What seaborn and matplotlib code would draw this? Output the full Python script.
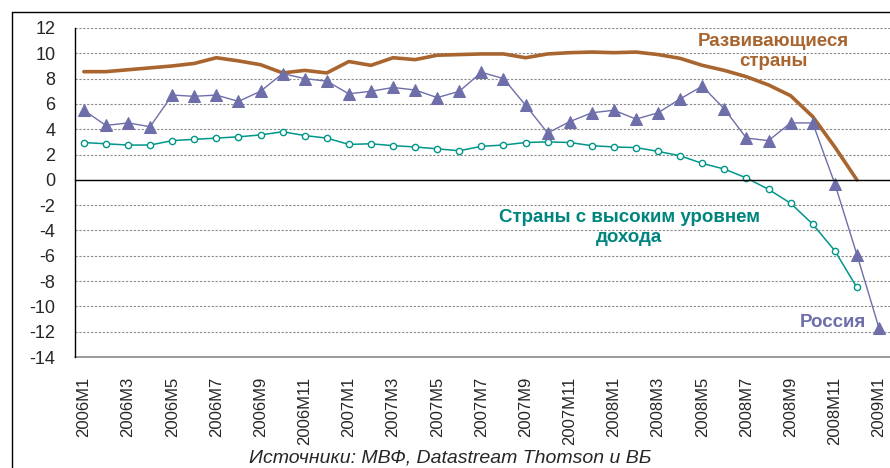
import numpy as np
import pandas as pd
import matplotlib
matplotlib.use('Agg')
import matplotlib.pyplot as plt
import seaborn as sns
from matplotlib.lines import Line2D

# месяцы 2006M1 - 2009M1
months = ['2006M1', '2006M2', '2006M3', '2006M4', '2006M5', '2006M6', '2006M7', '2006M8',
          '2006M9', '2006M10', '2006M11', '2006M12',
          '2007M1', '2007M2', '2007M3', '2007M4', '2007M5', '2007M6', '2007M7', '2007M8',
          '2007M9', '2007M10', '2007M11', '2007M12',
          '2008M1', '2008M2', '2008M3', '2008M4', '2008M5', '2008M6', '2008M7', '2008M8',
          '2008M9', '2008M10', '2008M11', '2008M12',
          '2009M1']

russia = [5.5, 4.3, 4.5, 4.2, 6.7, 6.6, 6.7, 6.2, 7.0, 8.4,
          8.0, 7.8, 6.8, 7.0, 7.3, 7.1, 6.5, 7.0, 8.5, 8.0,
          5.9, 3.7, 4.6, 5.3, 5.5, 4.8, 5.3, 6.4, 7.4, 5.6,
          3.3, 3.1, 4.5, 4.5, -0.3, -5.9, -11.7]

developing = [8.55, 8.55, 8.7, 8.85, 9.0, 9.2, 9.65, 9.4, 9.1, 8.45,
              8.65, 8.45, 9.35, 9.05, 9.65, 9.5, 9.85, 9.9, 9.95, 9.95,
              9.65, 9.95, 10.05, 10.1, 10.05, 10.1, 9.9, 9.6, 9.05, 8.65,
              8.15, 7.5, 6.65, 5.0, 2.6, 0.0]

high_income = [2.95, 2.85, 2.75, 2.75, 3.1, 3.2, 3.3, 3.4, 3.55, 3.8,
               3.5, 3.3, 2.8, 2.85, 2.7, 2.6, 2.45, 2.3, 2.65, 2.75,
               2.95, 3.0, 2.95, 2.7, 2.6, 2.55, 2.25, 1.9, 1.3, 0.85,
               0.15, -0.75, -1.85, -3.5, -5.6, -8.5]

brown = '#A8652F'
teal = '#00968A'
purple = '#6E6EAA'

sns.set_style('white')
plt.rcParams['font.family'] = ['Liberation Sans', 'DejaVu Sans']
plt.rcParams['axes.unicode_minus'] = False

fig = plt.figure(figsize=(8.9, 4.68), dpi=100)
ax = fig.add_axes([75 / 890, 1 - 357 / 468, (890 - 75) / 890, (357 - 28) / 468])

x = np.arange(len(months))

sns.lineplot(x=x[:len(developing)], y=developing, color=brown, lw=2.6, ax=ax)
sns.lineplot(x=x[:len(high_income)], y=high_income, color=teal, lw=1.1,
             marker='o', markersize=4.5, markerfacecolor='white',
             markeredgecolor=teal, markeredgewidth=1.0, ax=ax)
sns.lineplot(x=x, y=russia, color=purple, lw=1.0, marker='^', markersize=8,
             markeredgecolor=purple, ax=ax)

ax.set_xlim(-0.4, 36.5)
ax.set_ylim(-14, 12)
ax.set_yticks(np.arange(-14, 13, 2))
ax.tick_params(axis='y', length=7, width=1, color='black', direction='out',
               labelsize=13, pad=7)
ax.yaxis.grid(True, ls=(0, (2, 1.5)), color='#8a8a8a', lw=0.8)
ax.axhline(-14, color='#8a8a8a', lw=1.2, clip_on=False, zorder=0.5)
ax.set_axisbelow(True)

for s in ['top', 'right']:
    ax.spines[s].set_visible(False)
ax.spines['left'].set_color('black')
ax.spines['left'].set_linewidth(1)
# ось X проходит через ноль
ax.spines['bottom'].set_position(('data', 0))
ax.spines['bottom'].set_color('black')
ax.spines['bottom'].set_linewidth(1)
ax.set_xticks(x[:-1] + 0.5)
ax.tick_params(axis='x', length=6, width=1, color='black', direction='out',
               labelbottom=False)

# подписи месяцев внизу графика
sec = ax.secondary_xaxis(0)
sec.set_xticks(x[::2], months[::2], rotation=90, fontsize=12)
sec.tick_params(axis='x', length=0, pad=14)
sec.spines['bottom'].set_visible(False)

ax.set_xlabel('')
ax.set_ylabel('')

ax.text(31.2, 10.15, 'Развивающиеся\nстраны', color=brown, fontsize=13.5,
        fontweight='bold', ha='center', va='center', linespacing=1.2)
ax.text(24.7, -3.75, 'Страны с высоким уровнем\nдохода', color='#00857E', fontsize=13.5,
        fontweight='bold', ha='center', va='center', linespacing=1.2)
ax.text(33.9, -11.3, 'Россия', color=purple, fontsize=13.5, fontweight='bold',
        ha='center', va='center')

fig.text(450 / 890, 1 - 458 / 468, 'Источники: МВФ, Datastream Thomson и ВБ',
         style='italic', fontsize=14, ha='center', va='center')

# рамка диаграммы
fig.add_artist(Line2D([12 / 890, 12 / 890], [0, 1 - 12 / 468], color='black', lw=1,
                      transform=fig.transFigure))
fig.add_artist(Line2D([12 / 890, 1], [1 - 12 / 468, 1 - 12 / 468], color='black', lw=1,
                      transform=fig.transFigure))

fig.savefig('out.png', dpi=100)
